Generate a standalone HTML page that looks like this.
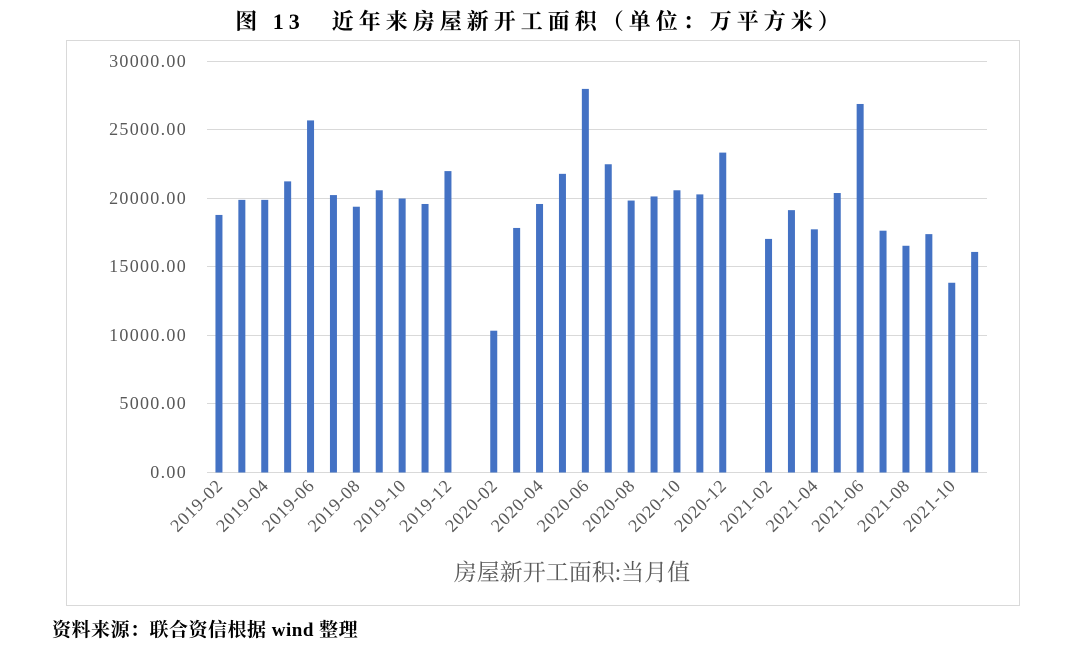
<!DOCTYPE html>
<html><head><meta charset="utf-8"><style>
body{margin:0;background:#fff;width:1080px;height:647px;overflow:hidden}
</style></head><body>
<svg width="1080" height="647" xmlns="http://www.w3.org/2000/svg" font-family="'Liberation Serif','Noto Serif CJK SC',serif">
<text x="540" y="29" text-anchor="middle" font-size="22" font-weight="bold" letter-spacing="5" fill="#000">图 13　近年来房屋新开工面积（单位：万平方米）</text>
<rect x="66.5" y="40.5" width="953" height="565" fill="none" stroke="#d9d9d9"/>
<g stroke="#d9d9d9" stroke-width="1">
<line x1="207" x2="987" y1="61.5" y2="61.5"/><line x1="207" x2="987" y1="129.5" y2="129.5"/>
<line x1="207" x2="987" y1="198.5" y2="198.5"/><line x1="207" x2="987" y1="266.5" y2="266.5"/>
<line x1="207" x2="987" y1="335.5" y2="335.5"/><line x1="207" x2="987" y1="403.5" y2="403.5"/>
<line x1="207" x2="987" y1="472.5" y2="472.5"/>
</g>
<g font-size="18" fill="#595959" text-anchor="end" letter-spacing="1.3">
<text x="187" y="67">30000.00</text><text x="187" y="135">25000.00</text><text x="187" y="204">20000.00</text>
<text x="187" y="272">15000.00</text><text x="187" y="341">10000.00</text><text x="187" y="409">5000.00</text><text x="187" y="478">0.00</text>
</g>
<g id="bars" fill="#4472c4"></g>
<g id="labels" font-size="18" fill="#595959" letter-spacing="0.8"></g>
<text x="572" y="580" text-anchor="middle" font-size="23" fill="#595959">房屋新开工面积:当月值</text>
<text x="52" y="636" font-size="19" font-weight="bold" fill="#000" letter-spacing="0.5">资料来源：联合资信根据 wind 整理</text>
</svg>
<script>
var v=[18800,19900,19900,21250,25700,20250,19400,20600,20000,19600,22000,null,10350,17850,19600,21800,28000,22500,19850,20150,20600,20300,23350,null,17050,19150,17750,20400,26900,17650,16550,17400,13850,16100];
var b=document.getElementById('bars'),l=document.getElementById('labels'),ns='http://www.w3.org/2000/svg';
var y0=472.5,sc=411/30000,w=22.9,x0=207.5;
for(var i=0;i<v.length;i++){var cx=x0+w*(i+0.5);
if(v[i]!=null){var r=document.createElementNS(ns,'rect');var h=v[i]*sc;r.setAttribute('x',cx-3.5);r.setAttribute('y',y0-h);r.setAttribute('width',7);r.setAttribute('height',h);b.appendChild(r);}
if(i%2==0){var m=i+2,yr=2019+Math.floor((m-1)/12),mo=((m-1)%12)+1;var t=document.createElementNS(ns,'text');
t.setAttribute('x',cx+5);t.setAttribute('y',y0+14);t.setAttribute('text-anchor','end');t.setAttribute('transform','rotate(-45 '+(cx+5)+' '+(y0+14)+')');
t.textContent=yr+'-'+(mo<10?'0':'')+mo;l.appendChild(t);}}
</script>
</body></html>
